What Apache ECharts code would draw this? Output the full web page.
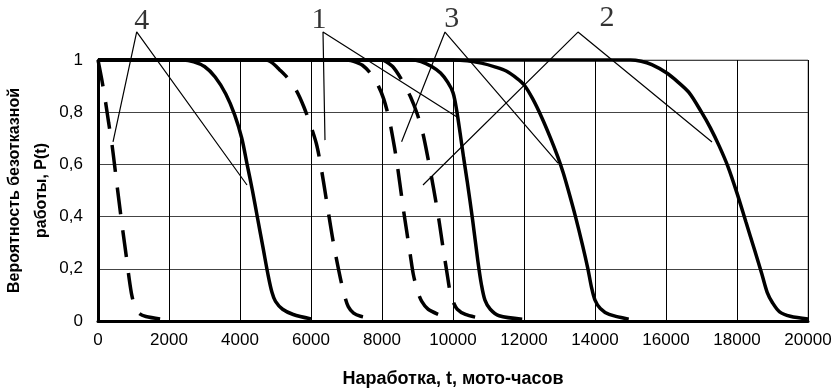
<!DOCTYPE html>
<html><head><meta charset="utf-8">
<script src="https://cdn.jsdelivr.net/npm/echarts@6/dist/echarts.min.js"></script>
<style>html,body{margin:0;padding:0;background:#fff}#c{width:836px;height:391px}</style>
</head><body><div id="c"></div>
<script>
// x tick values (hours) and y tick values
const xTicks = [0,2000,4000,6000,8000,10000,12000,14000,16000,18000,20000];
const yTicks = [0,0.2,0.4,0.6,0.8,1];

// Curve 4
const solid4 = [[0,1],[2400,1],[2700,0.993],[3000,0.975],[3300,0.935],[3600,0.87],[3850,0.79],[4050,0.70],[4200,0.6],[4350,0.5],[4500,0.39],[4650,0.28],[4800,0.17],[4900,0.11],[5000,0.075],[5200,0.045],[5500,0.025],[6000,0.008]];
const dashed4 = [[0,1],[100,0.93],[200,0.85],[300,0.76],[400,0.67],[500,0.56],[600,0.45],[700,0.345],[800,0.245],[880,0.16],[950,0.1],[1030,0.06],[1150,0.03],[1350,0.017],[1750,0.008]];
// Curve 1
const solid1 = [[0,1],[8800,1],[9100,0.994],[9400,0.975],[9650,0.95],[9850,0.915],[10000,0.875],[10100,0.81],[10200,0.72],[10300,0.625],[10400,0.535],[10550,0.39],[10700,0.23],[10800,0.14],[10900,0.08],[11050,0.045],[11300,0.02],[11950,0.007]];
const dashed1 = [[4750,1],[4900,0.99],[5100,0.965],[5350,0.93],[5600,0.88],[5800,0.82],[6000,0.745],[6150,0.68],[6250,0.615],[6350,0.535],[6450,0.45],[6550,0.365],[6650,0.285],[6750,0.215],[6850,0.15],[6950,0.095],[7050,0.055],[7200,0.03],[7400,0.018],[7700,0.01]];
// Curve 3
const solid3 = [[0,1],[10000,1],[10400,0.997],[10800,0.988],[11200,0.973],[11500,0.958],[11800,0.93],[12000,0.905],[12250,0.85],[12500,0.78],[12750,0.7],[12950,0.63],[13100,0.57],[13250,0.5],[13450,0.4],[13650,0.29],[13800,0.2],[13900,0.13],[14000,0.08],[14150,0.048],[14400,0.025],[14950,0.007]];
const dashed3 = [[7000,1],[7200,0.995],[7450,0.98],[7700,0.945],[7900,0.9],[8050,0.85],[8200,0.775],[8300,0.705],[8400,0.625],[8500,0.53],[8600,0.43],[8700,0.34],[8800,0.25],[8880,0.18],[9000,0.115],[9120,0.075],[9300,0.045],[9630,0.023]];
// Curve 2
const solid2 = [[0,1],[15000,1],[15300,0.995],[15600,0.982],[16000,0.952],[16300,0.92],[16650,0.875],[17000,0.8],[17250,0.74],[17500,0.67],[17750,0.59],[18000,0.49],[18250,0.38],[18500,0.27],[18700,0.18],[18850,0.11],[19000,0.07],[19200,0.035],[19500,0.018],[20000,0.008]];
const dashed2 = [[8028,1],[8300,0.975],[8550,0.925],[8800,0.86],[9000,0.79],[9150,0.72],[9300,0.62],[9450,0.51],[9600,0.39],[9720,0.28],[9830,0.185],[9920,0.11],[10000,0.075],[10120,0.045],[10350,0.025],[10680,0.013]];

// Callout numbers and leader lines (data coordinates: end1, apex, end2)
const calloutNames = ['4','1','3','2'];
const calloutLabelPos = [[1231,1.149],[6225,1.153],[9963,1.157],[14338,1.16]];
const leaders = [
  [[423,0.686],[1090,1.108],[4197,0.521]],
  [[6394,0.693],[6338,1.107],[10113,0.782]],
  [[8552,0.687],[9775,1.107],[12958,0.605]],
  [[9155,0.521],[13521,1.107],[17296,0.686]]
];

const yTitle = 'Вероятность безотказной\nработы, P(t)';
const xTitle = 'Наработка, t, мото-часов';

const chart = echarts.init(document.getElementById('c'));
const solidStyle = {color:'#000', width:3.5, type:'solid'};
const dashStyle = {color:'#000', width:3.5, type:[27,16], cap:'butt'};
function curve(name, data, style){
  return {name, type:'line', data, smooth:0.3, symbol:'none', clip:false, silent:true,
    lineStyle:style, z:3, animation:false};
}
const series = [
  curve('4s', solid4, solidStyle), curve('4d', dashed4, dashStyle),
  curve('1s', solid1, solidStyle), curve('1d', dashed1, dashStyle),
  curve('3s', solid3, solidStyle), curve('3d', dashed3, dashStyle),
  curve('2s', solid2, solidStyle), curve('2d', dashed2, dashStyle)
];
leaders.forEach((l,i)=>{
  series.push({type:'line', data:l, symbol:'none', clip:false, silent:true, animation:false,
    lineStyle:{color:'#000', width:1.2}, z:4});
});
series.push({type:'scatter', symbolSize:0, clip:false, silent:true, animation:false,
  data: calloutLabelPos.map((p,i)=>({value:p, name:calloutNames[i]})),
  label:{show:true, position:'inside', formatter:'{b}', color:'#000',
    fontFamily:'Liberation Serif', fontSize:30}});

chart.setOption({
  animation:false,
  backgroundColor:'#fff',
  grid:{left:98, right:28, top:60, bottom:70, show:true, borderColor:'#888', borderWidth:1,
    containLabel:false, outerBoundsMode:'none'},
  xAxis:{type:'value', min:0, max:20000, interval:2000,
    name:xTitle, nameLocation:'middle', nameGap:49, nameMoveOverlap:false,
    nameTextStyle:{fontFamily:'Liberation Sans', fontWeight:'bold', fontSize:18, color:'#000'},
    axisLine:{show:true, onZero:false, lineStyle:{color:'#000', width:3}},
    axisTick:{show:false},
    axisLabel:{margin:11, fontFamily:'Liberation Sans', fontSize:17, color:'#000',
      formatter:v=>String(v)},
    splitLine:{show:true, lineStyle:{color:'#000', width:1}}
  },
  yAxis:{type:'value', min:0, max:1, interval:0.2,
    name:yTitle, nameLocation:'middle', nameRotate:90, nameGap:43, nameMoveOverlap:false,
    nameTextStyle:{fontFamily:'Liberation Sans', fontWeight:'bold', fontSize:16, color:'#000', lineHeight:27},
    axisLine:{show:true, onZero:false, lineStyle:{color:'#000', width:3}},
    axisTick:{show:false},
    axisLabel:{margin:15, fontFamily:'Liberation Sans', fontSize:17, color:'#000',
      formatter:v=>String(Math.round(v*10)/10).replace('.',',')},
    splitLine:{show:true, lineStyle:{color:'#444', width:1}}
  },
  series
});
</script></body></html>
